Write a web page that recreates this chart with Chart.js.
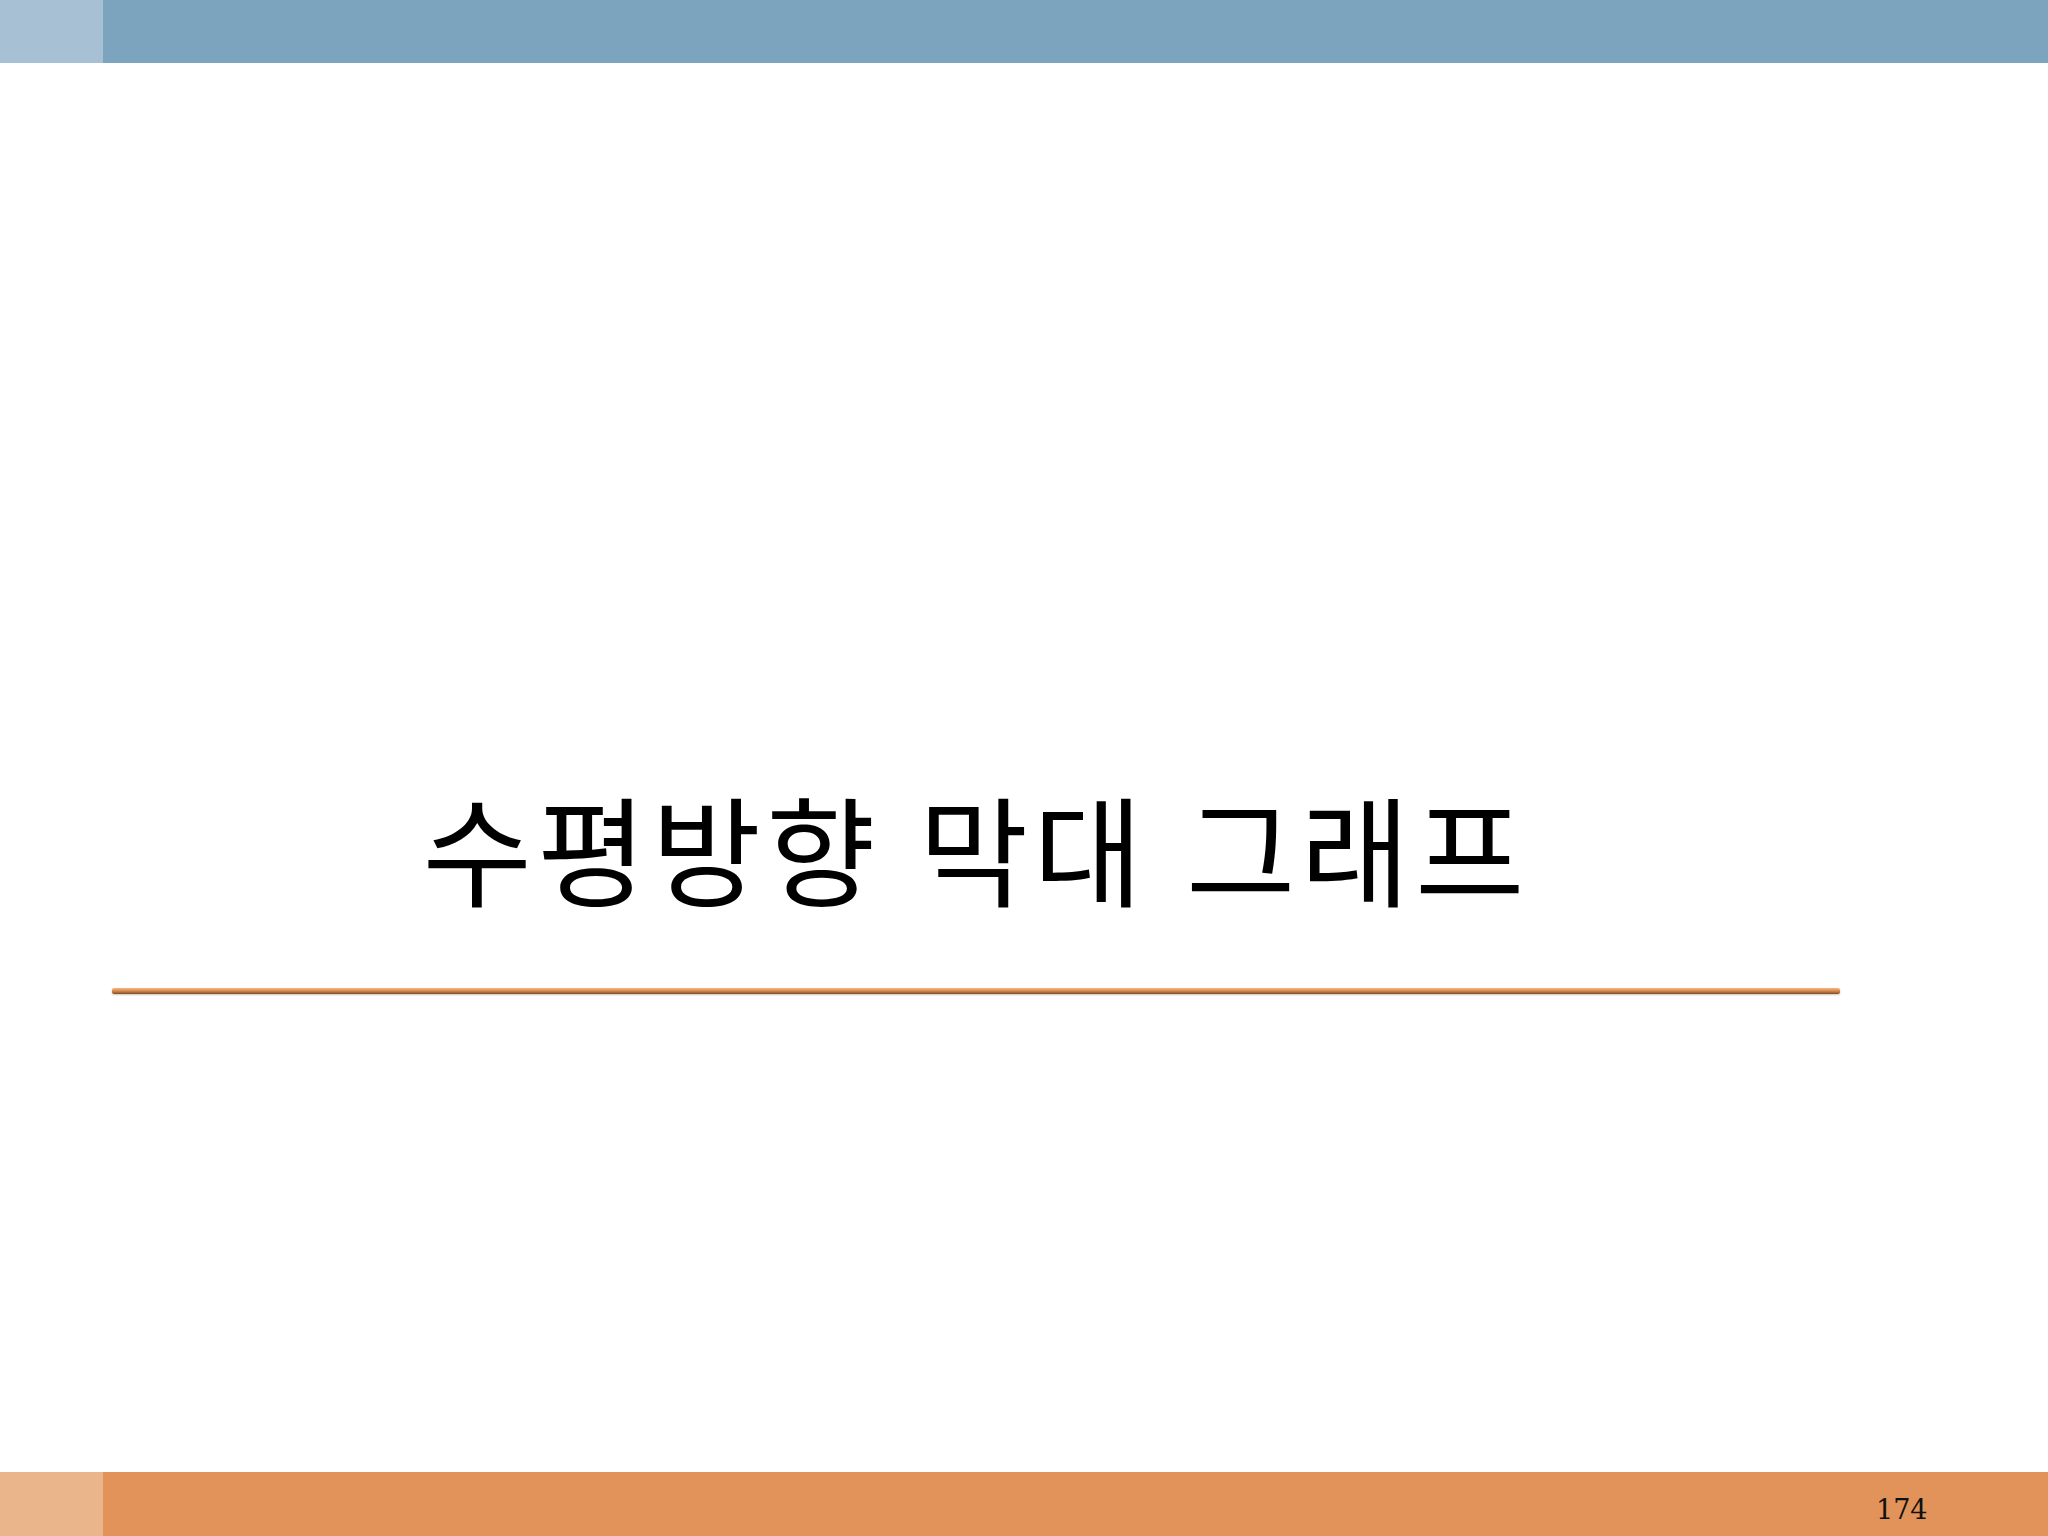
<!DOCTYPE html>
<html lang="ko">
<head>
<meta charset="utf-8">
<title>수평방향 막대 그래프</title>
<script src="https://cdn.jsdelivr.net/npm/chart.js@4"></script>
<style>
  html, body { margin: 0; padding: 0; background: #fff; }
  .slide { position: relative; width: 2048px; height: 1536px; overflow: hidden; background: #fff; }
  .top-main { position: absolute; left: 0; top: 0; width: 2048px; height: 63px; background: #7ca4bf; }
  .top-side { position: absolute; left: 0; top: 0; width: 103px; height: 63px; background: #a7c0d3; }
  .bot-main { position: absolute; left: 0; top: 1472px; width: 2048px; height: 64px; background: #e2935a; }
  .bot-side { position: absolute; left: 0; top: 1472px; width: 103px; height: 64px; background: #ebb58c; }
  .title {
    position: absolute; left: 0; width: 1952px; top: 766px;
    text-align: center; font-family: "Noto Sans CJK KR", sans-serif;
    font-size: 119px; line-height: 160px; color: #000; letter-spacing: 5px;
  }
  .rule {
    position: absolute; left: 112px; top: 988px; width: 1728px; height: 6px;
    background: linear-gradient(#f4b988, #dd8d4f 45%, #7e4c2a);
    border-radius: 2px; box-shadow: 0 1px 2px rgba(120,80,40,0.35);
  }
  .page {
    position: absolute; left: 1876px; top: 1494px; font-family: "DejaVu Serif", serif;
    font-size: 27px; color: #111;
  }
  #chartBox { display: none; }
</style>
</head>
<body>
<div class="slide">
  <div class="top-main"></div>
  <div class="top-side"></div>
  <div class="title">수평방향 막대 그래프</div>
  <div class="rule"></div>
  <div class="bot-main"></div>
  <div class="bot-side"></div>
  <div class="page">174</div>
  <div id="chartBox"><canvas id="chart"></canvas></div>
</div>
<script>
// this slide is only the section title, no bars are drawn on it
const categories = [];
const values = [];

document.addEventListener('DOMContentLoaded', () => {
    const ctx = document.getElementById('chart').getContext('2d');
    new Chart(ctx, {
        type: 'bar',
        data: {
            labels: categories,
            datasets: [{ data: values }]
        },
        options: {
            indexAxis: 'y',
            animation: false,
            plugins: { legend: { display: false } }
        }
    });
});
</script>
</body>
</html>
